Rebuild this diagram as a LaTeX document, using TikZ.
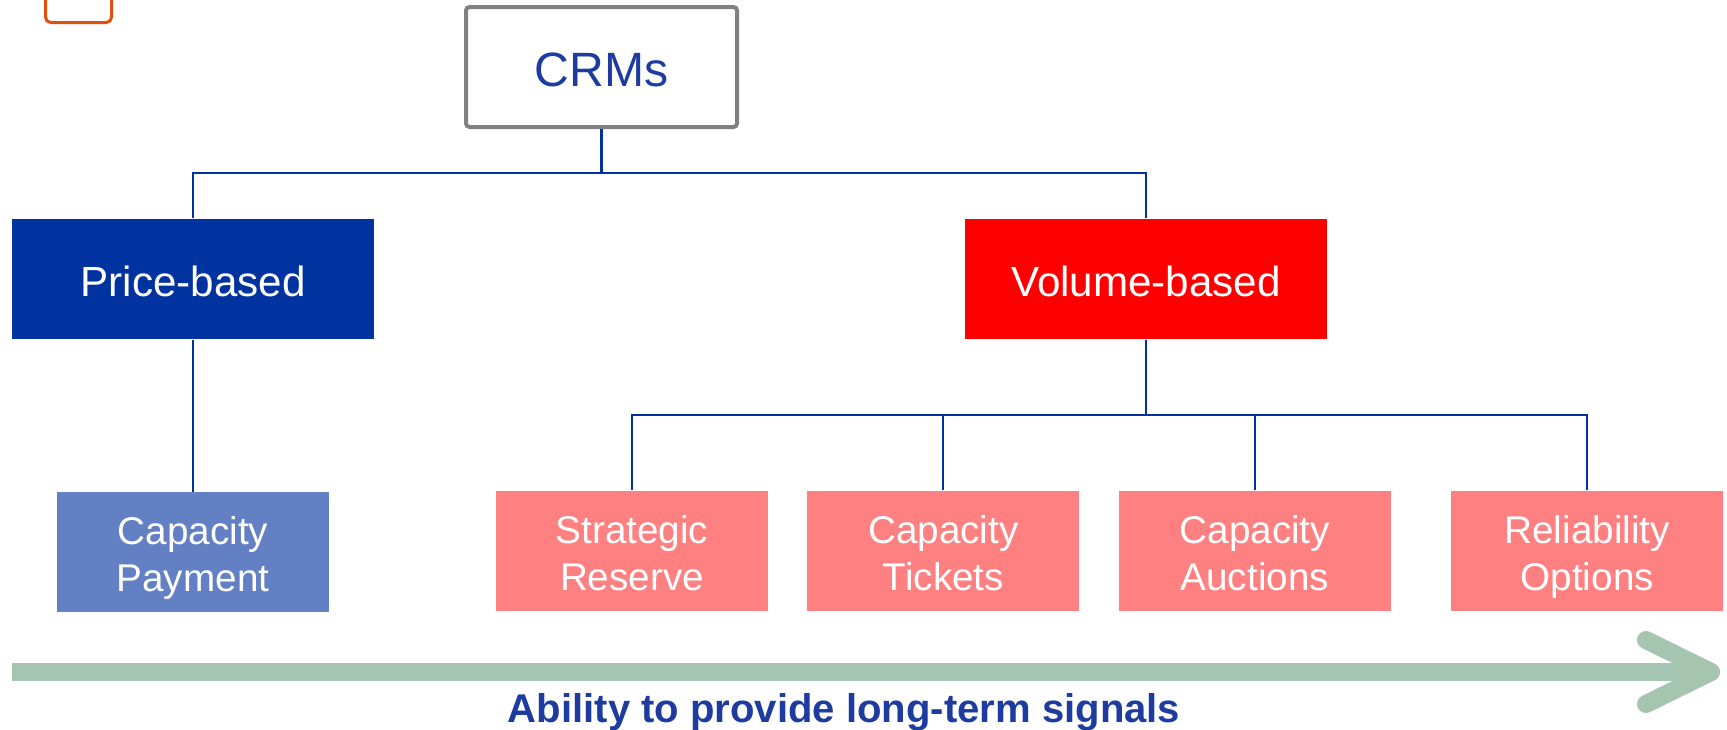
\documentclass[tikz,border=0pt]{standalone}
\usepackage{fontspec}
\setmainfont{Liberation Sans}
\usetikzlibrary{positioning, calc}

\definecolor{crmtext}{RGB}{30,60,160}
\definecolor{linkblue}{RGB}{0,51,160}
\definecolor{pricefill}{RGB}{0,51,160}
\definecolor{payfill}{RGB}{100,128,196}
\definecolor{volred}{RGB}{255,0,0}
\definecolor{volfill}{RGB}{255,128,128}
\definecolor{signalgreen}{RGB}{165,197,176}
\definecolor{tagorange}{RGB}{224,80,16}

\begin{document}
\begin{tikzpicture}[
  node distance = 1.52cm and 0.38cm,
  rootbox/.style = {rectangle, draw=gray, line width=0.04cm, fill=white,
                    rounded corners=1pt, minimum width=2.71cm, minimum height=1.20cm,
                    text height=10.9pt, text depth=0pt,
                    text=crmtext, font=\fontsize{13.7}{16}\selectfont},
  groupbox/.style = {rectangle, minimum width=3.62cm, minimum height=1.20cm,
                     text height=10.2pt, text depth=0pt,
                     text=white, font=\fontsize{12}{14}\selectfont},
  leafbox/.style = {rectangle, minimum width=2.72cm, minimum height=1.20cm,
                    text height=22.5pt, text depth=0pt,
                    align=center, text=white, font=\fontsize{11}{13.4}\selectfont},
  link/.style = {draw=linkblue, line width=0.6pt},
  signal/.style = {draw=signalgreen, line width=0.18cm}
]
  \useasboundingbox (0,0) rectangle (17.27,7.29);
  \clip (0,0) rectangle (17.27,7.29);

  \draw[tagorange, line width=0.03cm, rounded corners=1.5pt] (0.455,7.6) rectangle (1.115,7.065);

  \node[rootbox] (crms) at (6.015,6.62) {CRMs};
  \node[groupbox, fill=pricefill] (price) at (1.93,4.50) {Price-based};
  \node[groupbox, fill=volred] (volume) at (11.46,4.50) {Volume-based};

  \node[leafbox, fill=payfill, below=of price] (pay) {Capacity\\Payment};
  \node[leafbox, fill=volfill] (sr) at (6.32,1.78) {Strategic\\Reserve};
  \node[leafbox, fill=volfill, right=of sr] (ct) {Capacity\\Tickets};
  \node[leafbox, fill=volfill, right=of ct] (ca) {Capacity\\Auctions};
  \node[leafbox, fill=volfill, right=0.59cm of ca] (ro) {Reliability\\Options};

  \draw[link] (crms.south) -- ++(0,-0.44) -| (price.north);
  \draw[link] (crms.south) -- ++(0,-0.44) -| (volume.north);
  \draw[link] (price) -- (pay);
  \foreach \leaf in {sr,ct,ca,ro}
    \draw[link] (volume.south) -- ++(0,-0.75) -| (\leaf.north);

  % signal arrow
  \coordinate (sigstart) at (0.12,0.57);
  \coordinate (sigend) at (17.11,0.57);
  \draw[signal] (sigstart) -- ($(sigend)+(-0.05,0)$);
  \draw[signal, line cap=round, line join=round]
    ($(sigend)+(-0.65,0.32)$) -- (sigend) -- ($(sigend)+(-0.65,-0.32)$);
  \node[text=crmtext, font=\bfseries\fontsize{11.4}{13}\selectfont] (siglabel) at (8.44,0.165)
    {Ability to provide long-term signals};
\end{tikzpicture}
\end{document}
